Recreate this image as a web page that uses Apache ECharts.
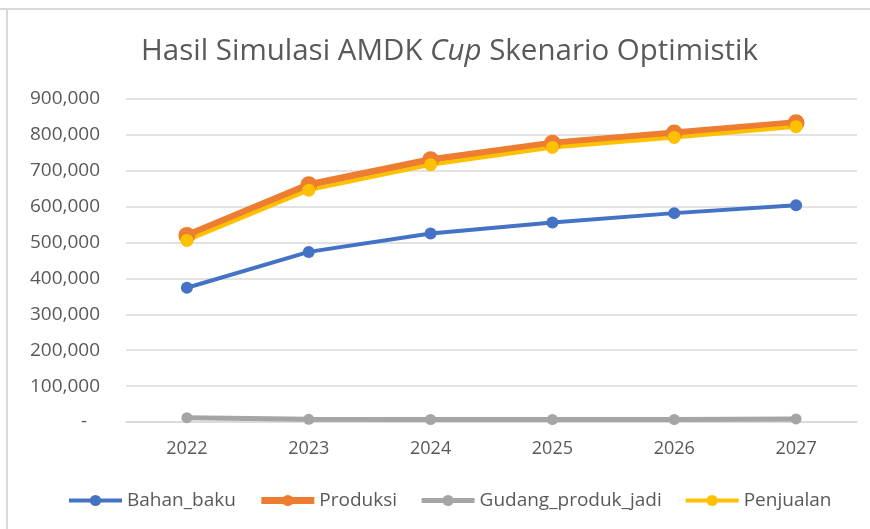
<!DOCTYPE html>
<html>
<head>
<meta charset="utf-8">
<script src="https://cdn.jsdelivr.net/npm/echarts@6/dist/echarts.min.js"></script>
<style>
  html, body { margin: 0; padding: 0; background: #fff; }
  #chart { width: 870px; height: 529px; }
</style>
</head>
<body>
<div id="chart"></div>
<script>
const years = ['2022', '2023', '2024', '2025', '2026', '2027']
const bahanBaku = [374000, 474000, 525000, 556000, 582000, 604000]
const produksi = [520000, 661000, 731000, 777000, 805000, 834000]
const gudangProdukJadi = [12000, 7500, 7000, 7000, 7000, 8500]
const penjualan = [506000, 646000, 717000, 765000, 793000, 823000]

const font = 'Open Sans'
const chart = echarts.init(document.getElementById('chart'))

function fmt(v) {
  if (v === 0) return '{z|-}'
  return v.toLocaleString('en-US')
}

function line(name, data, color, width, size) {
  return {
    name,
    type: 'line',
    data,
    symbol: 'circle',
    symbolSize: size,
    lineStyle: { color, width },
    itemStyle: { color },
    emphasis: { disabled: true }
  }
}

chart.setOption({
  animation: false,
  textStyle: { fontFamily: font },
  title: {
    text: 'Hasil Simulasi AMDK {i|Cup} Skenario Optimistik',
    left: 136,
    top: 32,
    textStyle: {
      fontFamily: font,
      fontSize: 29.5,
      fontWeight: 'normal',
      color: '#595959',
      rich: {
        i: { fontFamily: font, fontSize: 29.5, fontStyle: 'italic', color: '#595959' }
      }
    }
  },
  graphic: [
    { type: 'line', shape: { x1: 0, y1: 9, x2: 870, y2: 9 }, style: { stroke: '#d9d9d9', lineWidth: 2 } },
    { type: 'line', shape: { x1: 7, y1: 9, x2: 7, y2: 529 }, style: { stroke: '#d9d9d9', lineWidth: 2 } }
  ],
  legend: {
    top: 486,
    left: 62,
    itemWidth: 53,
    itemHeight: 14,
    itemGap: 22,
    textStyle: { fontFamily: font, fontSize: 19, color: '#595959' },
    data: [
      { name: 'Bahan_baku', lineStyle: { width: 4 } },
      { name: 'Produksi', lineStyle: { width: 7 } },
      { name: 'Gudang_produk_jadi', lineStyle: { width: 5 } },
      { name: 'Penjualan', lineStyle: { width: 4 } }
    ]
  },
  grid: { left: 126, right: 13, top: 99, bottom: 107 },
  xAxis: {
    type: 'category',
    data: years,
    boundaryGap: true,
    axisLine: { lineStyle: { color: '#d9d9d9', width: 1.5 } },
    axisTick: { show: false },
    axisLabel: { color: '#595959', fontSize: 18, margin: 18 }
  },
  yAxis: {
    type: 'value',
    min: 0,
    max: 900000,
    interval: 100000,
    axisLine: { show: false },
    axisTick: { show: false },
    splitLine: { lineStyle: { color: '#d9d9d9', width: 1.5 } },
    axisLabel: {
      color: '#595959',
      fontSize: 19,
      margin: 26,
      formatter: fmt,
      rich: { z: { color: '#595959', fontSize: 19, padding: [0, 13, 0, 0] } }
    }
  },
  series: [
    line('Bahan_baku', bahanBaku, '#4472c4', 4, 12),
    line('Produksi', produksi, '#ed7d31', 7, 17),
    line('Gudang_produk_jadi', gudangProdukJadi, '#a5a5a5', 5, 11),
    line('Penjualan', penjualan, '#ffc000', 4, 13)
  ]
})
</script>
</body>
</html>
